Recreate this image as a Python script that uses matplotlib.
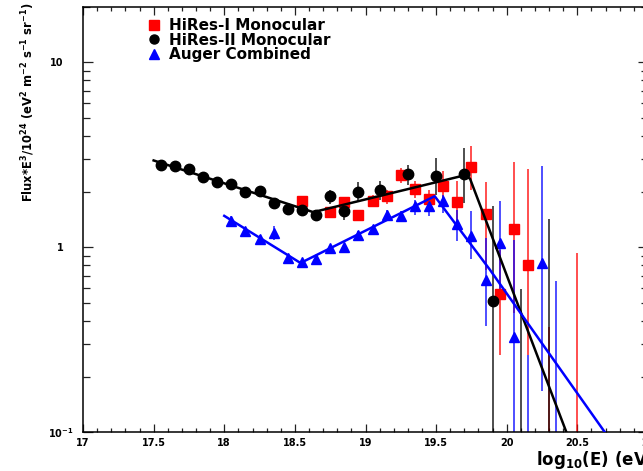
import matplotlib
matplotlib.use("Agg")
import matplotlib.pyplot as plt
from matplotlib.ticker import MultipleLocator, FixedLocator, LogLocator, NullFormatter, FixedFormatter
from matplotlib.lines import Line2D

plt.rcParams['font.family'] = ['DejaVu Sans']
plt.rcParams['font.weight'] = 'bold'
plt.rcParams['mathtext.fontset'] = 'custom'
plt.rcParams['mathtext.rm'] = 'DejaVu Sans:bold'
plt.rcParams['mathtext.bf'] = 'DejaVu Sans:bold'
plt.rcParams['mathtext.it'] = 'DejaVu Sans:bold'
plt.rcParams['mathtext.default'] = 'bf'

# ---------------- data ----------------
# HiRes-I Monocular
hr1_logE = [18.55, 18.75, 18.85, 18.95, 19.05, 19.15, 19.25, 19.35, 19.45, 19.55,
            19.65, 19.75, 19.85, 19.95, 20.05, 20.15, 20.30, 20.50]
hr1_flux = [1.79, 1.55, 1.75, 1.49, 1.79, 1.89, 2.47, 2.07, 1.83, 2.14,
            1.75, 2.72, 1.52, 0.562, 1.26, 0.80, 0.05, 0.05]
hr1_hi = [1.86, 1.63, 1.85, 1.58, 1.93, 2.05, 2.69, 2.27, 2.05, 2.58,
          2.27, 3.55, 2.25, 0.97, 2.88, 2.65, 0.371, 0.93]
hr1_lo = [1.72, 1.46, 1.65, 1.40, 1.65, 1.72, 2.23, 1.85, 1.63, 1.70,
          1.30, 2.05, 0.75, 0.263, 0.44, 0.263, 0.01, 0.01]

# HiRes-II Monocular
hr2_logE = [17.55, 17.65, 17.75, 17.85, 17.95, 18.05, 18.15, 18.25, 18.35, 18.45,
            18.55, 18.65, 18.75, 18.85, 18.95, 19.10, 19.30, 19.50, 19.70, 19.90,
            20.10, 20.30]
hr2_flux = [2.80, 2.74, 2.65, 2.40, 2.25, 2.20, 1.98, 2.01, 1.74, 1.61,
            1.585, 1.49, 1.886, 1.58, 2.00, 2.03, 2.49, 2.42, 2.49, 0.511,
            0.05, 0.05]
hr2_hi = [2.88, 2.82, 2.73, 2.48, 2.32, 2.27, 2.04, 2.08, 1.82, 1.69,
          1.67, 1.57, 2.05, 1.77, 2.26, 2.27, 2.80, 3.04, 3.45, 1.68,
          0.598, 1.43]
hr2_lo = [2.72, 2.66, 2.57, 2.32, 2.18, 2.13, 1.92, 1.94, 1.67, 1.54,
          1.48, 1.41, 1.72, 1.40, 1.79, 1.81, 2.18, 1.93, 1.74, 0.01,
          0.01, 0.01]

# Auger Combined
aug_logE = [18.05, 18.15, 18.25, 18.35, 18.45, 18.55, 18.65, 18.75, 18.85, 18.95,
            19.05, 19.15, 19.25, 19.35, 19.45, 19.55, 19.65, 19.75, 19.85, 19.95,
            20.05, 20.15, 20.25, 20.35]
aug_flux = [1.39, 1.22, 1.11, 1.20, 0.877, 0.83, 0.866, 0.99, 1.01, 1.17,
            1.25, 1.50, 1.48, 1.67, 1.67, 1.79, 1.33, 1.15, 0.669, 1.05,
            0.328, 0.05, 0.824, 0.05]
aug_hi = [1.48, 1.29, 1.17, 1.31, 0.90, 0.85, 0.89, 1.02, 1.04, 1.22,
          1.30, 1.60, 1.57, 1.81, 1.81, 1.93, 1.60, 1.58, 1.12, 1.77,
          1.09, 0.263, 2.74, 0.66]
aug_lo = [1.31, 1.15, 1.05, 1.10, 0.855, 0.81, 0.845, 0.96, 0.98, 1.10,
          1.17, 1.41, 1.38, 1.50, 1.47, 1.53, 1.08, 0.865, 0.374, 0.578,
          0.01, 0.01, 0.167, 0.01]

# broken power-law fits
fit_hr_logE = [17.50, 18.63, 19.70, 19.74, 20.60]
fit_hr_flux = [2.95, 1.55, 2.45, 2.35, 0.044]
fit_aug_logE = [18.00, 18.54, 19.49, 19.88, 20.80]
fit_aug_flux = [1.48, 0.823, 1.89, 0.758, 0.077]

xtick_vals = [17, 17.5, 18, 18.5, 19, 19.5, 20, 20.5, 21]
xtick_labels = ['17', '17.5', '18', '18.5', '19', '19.5', '20', '20.5', '21']
ytick_vals = [0.1, 1, 10]
ytick_labels = ['', '1', '10']

legend_labels = ['HiRes-I Monocular', 'HiRes-II Monocular', 'Auger Combined']

# ---------------- figure ----------------
W, H = 643, 471
fig = plt.figure(figsize=(W / 100, H / 100), dpi=100)
ax_l, ax_r, ax_t, ax_b = 83, 648, 6.7, 432.3
ax = fig.add_axes([ax_l / W, 1 - ax_b / H, (ax_r - ax_l) / W, (ax_b - ax_t) / H])

RED = '#ff0000'
BLUE = '#0000ff'
BLACK = '#000000'

# error bars
ax.vlines(hr1_logE, hr1_lo, hr1_hi, color=RED, lw=1.3, alpha=0.75, zorder=2)
ax.plot(hr1_logE, hr1_flux, ls='none', marker='s', ms=7.2, mfc=RED, mec=RED, zorder=3)
ax.vlines(hr2_logE, hr2_lo, hr2_hi, color=BLACK, lw=1.3, alpha=0.75, zorder=2)
ax.plot(hr2_logE, hr2_flux, ls='none', marker='o', ms=7.5, mfc=BLACK, mec=BLACK, zorder=3)
ax.vlines(aug_logE, aug_lo, aug_hi, color=BLUE, lw=1.3, alpha=0.75, zorder=2)
ax.plot(aug_logE, aug_flux, ls='none', marker='^', ms=7.5, mfc=BLUE, mec=BLUE, zorder=3)

ax.plot(fit_hr_logE, fit_hr_flux, color=BLACK, lw=1.8, zorder=4)
ax.plot(fit_aug_logE, fit_aug_flux, color=BLUE, lw=1.8, zorder=4)

ax.set_yscale('log')
ax.set_xlim(17, 21)
ax.set_ylim(0.1, 20)

ax.xaxis.set_major_locator(FixedLocator(xtick_vals))
ax.xaxis.set_major_formatter(FixedFormatter(xtick_labels))
ax.xaxis.set_minor_locator(MultipleLocator(0.1))
ax.yaxis.set_major_locator(FixedLocator(ytick_vals))
ax.yaxis.set_major_formatter(FixedFormatter(ytick_labels))
ax.yaxis.set_minor_locator(LogLocator(base=10, subs=range(2, 10)))
ax.yaxis.set_minor_formatter(NullFormatter())

ax.tick_params(which='both', direction='in', top=True, right=True, width=0.9, color='#222222')
ax.tick_params(axis='x', which='major', length=5.8, pad=4, labelsize=7)
ax.tick_params(axis='x', which='minor', length=3.0)
ax.tick_params(axis='y', which='major', length=7.5, pad=14, labelsize=7)
ax.tick_params(axis='y', which='minor', length=4.8)
for lab in ax.get_xticklabels() + ax.get_yticklabels():
    lab.set_fontweight('bold')
for sp in ax.spines.values():
    sp.set_linewidth(1.1)

# 10^-1 label in ROOT style
ax.text(48 / W, 1 - 433 / H, r'$10^{-1}$', transform=fig.transFigure,
        ha='left', va='center', fontsize=7, fontweight='bold')

# axis titles
fig.text(28 / W, 1 - 3 / H,
         r'Flux*E$^{3}$/10$^{24}$ (eV$^{2}$ m$^{-2}$ s$^{-1}$ sr$^{-1}$)',
         rotation=90, ha='center', va='top', fontsize=8.3, fontweight='bold')
fig.text(536 / W, 1 - 460 / H, r'log$_{10}$(E) (eV)', ha='left', va='center',
         fontsize=12, fontweight='bold')

handles = [Line2D([], [], ls='none', marker='s', ms=6.5, mfc=RED, mec=RED),
           Line2D([], [], ls='none', marker='o', ms=6.5, mfc=BLACK, mec=BLACK),
           Line2D([], [], ls='none', marker='^', ms=6.5, mfc=BLUE, mec=BLUE)]
leg = ax.legend(handles, legend_labels, loc='upper left',
                bbox_to_anchor=((148 - ax_l) / (ax_r - ax_l), 1 - (18 - ax_t) / (ax_b - ax_t)),
                frameon=False, prop={'weight': 'bold', 'size': 11},
                handlelength=0.8, handletextpad=0.55, labelspacing=-0.02,
                borderpad=0, borderaxespad=0)

fig.savefig('out.png', dpi=100)
